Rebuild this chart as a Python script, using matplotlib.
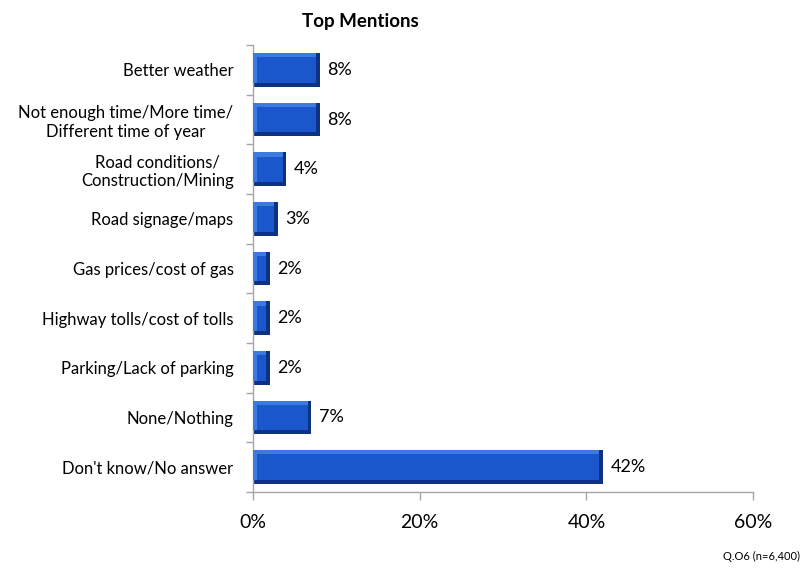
import matplotlib
matplotlib.use("Agg")
import matplotlib.pyplot as plt
import numpy as np

categories = [
    "Better weather",
    "Not enough time/More time/\nDifferent time of year",
    "Road conditions/\nConstruction/Mining",
    "Road signage/maps",
    "Gas prices/cost of gas",
    "Highway tolls/cost of tolls",
    "Parking/Lack of parking",
    "None/Nothing",
    "Don't know/No answer",
]
values = [8, 8, 4, 3, 2, 2, 2, 7, 42]
xticks = [0, 20, 40, 60]
xtick_labels = ["0%", "20%", "40%", "60%"]

plt.rcParams['font.family'] = ['Lato', 'DejaVu Sans']

fig = plt.figure(figsize=(8.04, 5.71), dpi=100)
ax = fig.add_axes([0.3147, 0.1384, 0.622, 0.7826])

y = np.arange(len(categories))
vals = np.array(values, dtype=float)
H = 0.68

# bevelled bars: dark outer (bottom/right), light top strip, mid face
ax.barh(y, vals, height=H, color="#0d3284", linewidth=0, zorder=2)
ax.barh(y - 0.04, vals - 0.45, height=H - 0.08, color="#3c7ae0", linewidth=0, zorder=3)
ax.barh(y + 0.0, vals - 0.9, height=H - 0.17, left=0.45, color="#1b57cc", linewidth=0, zorder=4)

for yi, v in zip(y, values):
    ax.text(v + 0.9, yi, f"{v}%", va="center", ha="left", fontsize=13, color="black")

ax.set_ylim(len(categories) - 0.5, -0.5)
ax.set_xlim(0, 60)
ax.set_yticks(y)
ax.set_yticklabels(categories, fontsize=12, multialignment="center")
ax.tick_params(axis="y", length=0, pad=14)
ax.set_yticks(np.arange(-0.5, len(categories), 1.0), minor=True)
ax.tick_params(axis="y", which="minor", length=5, color="#a6a6a6", width=1)

ax.set_xticks(xticks)
ax.set_xticklabels(xtick_labels, fontsize=14)
ax.tick_params(axis="x", length=6, color="#a6a6a6", width=1, pad=10)

for s in ["top", "right"]:
    ax.spines[s].set_visible(False)
for s in ["left", "bottom"]:
    ax.spines[s].set_color("#a6a6a6")
    ax.spines[s].set_linewidth(1)

fig.text(0.448, 0.962, "Top Mentions", ha="center", va="center", fontsize=13.5, fontweight="bold")
fig.text(0.995, 0.015, "Q.O6 (n=6,400)", ha="right", va="bottom", fontsize=8)

fig.savefig("out.png", dpi=100)
